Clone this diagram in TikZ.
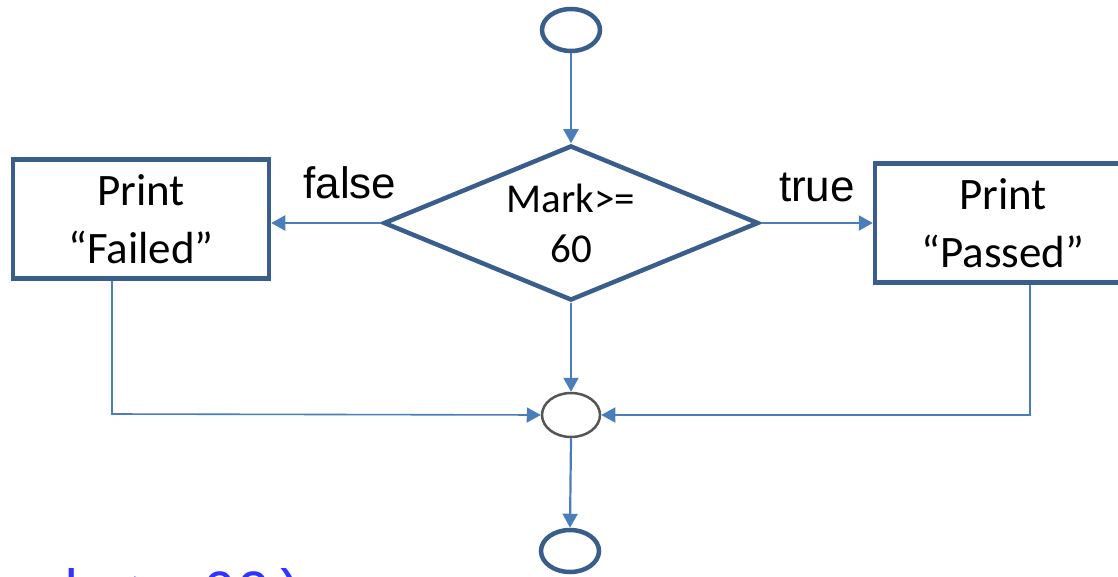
\documentclass[tikz,border=0pt]{standalone}
\usepackage{fontspec}
\setmainfont{Carlito}
\newfontfamily\arialf{Liberation Sans}
\newfontfamily\monof{Liberation Mono}
\usetikzlibrary{shapes.geometric,arrows.meta}
\definecolor{boxblue}{RGB}{58,94,140}
\definecolor{connblue}{RGB}{74,126,187}
\definecolor{mergegrey}{RGB}{85,85,85}
\definecolor{codeblue}{RGB}{51,51,255}
\tikzset{
  term/.style={ellipse,draw=boxblue,line width=4.5pt,inner sep=0pt,minimum width=58pt,minimum height=42pt},
  mergenode/.style={ellipse,draw=mergegrey,line width=2.5pt,inner sep=0pt,minimum width=58pt,minimum height=44pt},
  decision/.style={diamond,draw=boxblue,line width=4.5pt,inner sep=0pt,shape aspect=2.42,minimum width=375pt,minimum height=155pt,align=center,font=\fontsize{41}{50}\selectfont},
  procbox/.style={rectangle,draw=boxblue,line width=4.5pt,inner sep=0pt,minimum width=256pt,minimum height=119pt,align=center,font=\fontsize{45}{58}\selectfont},
  conn/.style={draw=connblue,line width=2.2pt,-{Triangle[length=14pt,width=15pt]}},
  thinconn/.style={draw=connblue,line width=1.6pt,-{Triangle[length=14pt,width=15pt]}},
  lbl/.style={font=\arialf\fontsize{44}{50}\selectfont,anchor=base,inner sep=0pt},
}
\begin{document}
\begin{tikzpicture}[x=1pt,y=-1pt]
\useasboundingbox (0,0) rectangle (1118,577);
\clip (0,0) rectangle (1118,577);
\fill[white] (0,0) rectangle (1118,577);
\node[term] (top) at (571,30) {};
\node[decision] (dec) at (571,223) {Mark>=\\60};
\node[procbox] (fail) at (141,219) {Print\\“Failed”};
\node[procbox] (pass) at (1003,223) {Print\\“Passed”};
\node[mergenode] (merge) at (571,415) {};
\node[term] (endc) at (570,551) {};
\coordinate (fl) at (112,414);
\coordinate (fr) at (1030,415);
\draw[conn] (top.south) -- (dec.north);
\draw[conn] (dec.west) -- (dec.west -| fail.east);
\draw[conn] (dec.east) -- (dec.east -| pass.west);
\draw[conn] (dec.south) -- (merge.north);
\draw[thinconn] (fail.south -| fl) -- (fl) -- (merge.west);
\draw[thinconn] (pass.south -| fr) -- (fr) -- (merge.east);
\draw[conn] (merge.south) -- (endc.north);
\node[lbl] (flabel) at (350,199) {false};
\node[lbl] (tlabel) at (817,202) {true};
\node[anchor=base west,inner sep=0pt,text=codeblue,font=\monof\fontsize{58}{60}\selectfont] (code) at (62,610) {k >=60)};
\end{tikzpicture}
\end{document}
